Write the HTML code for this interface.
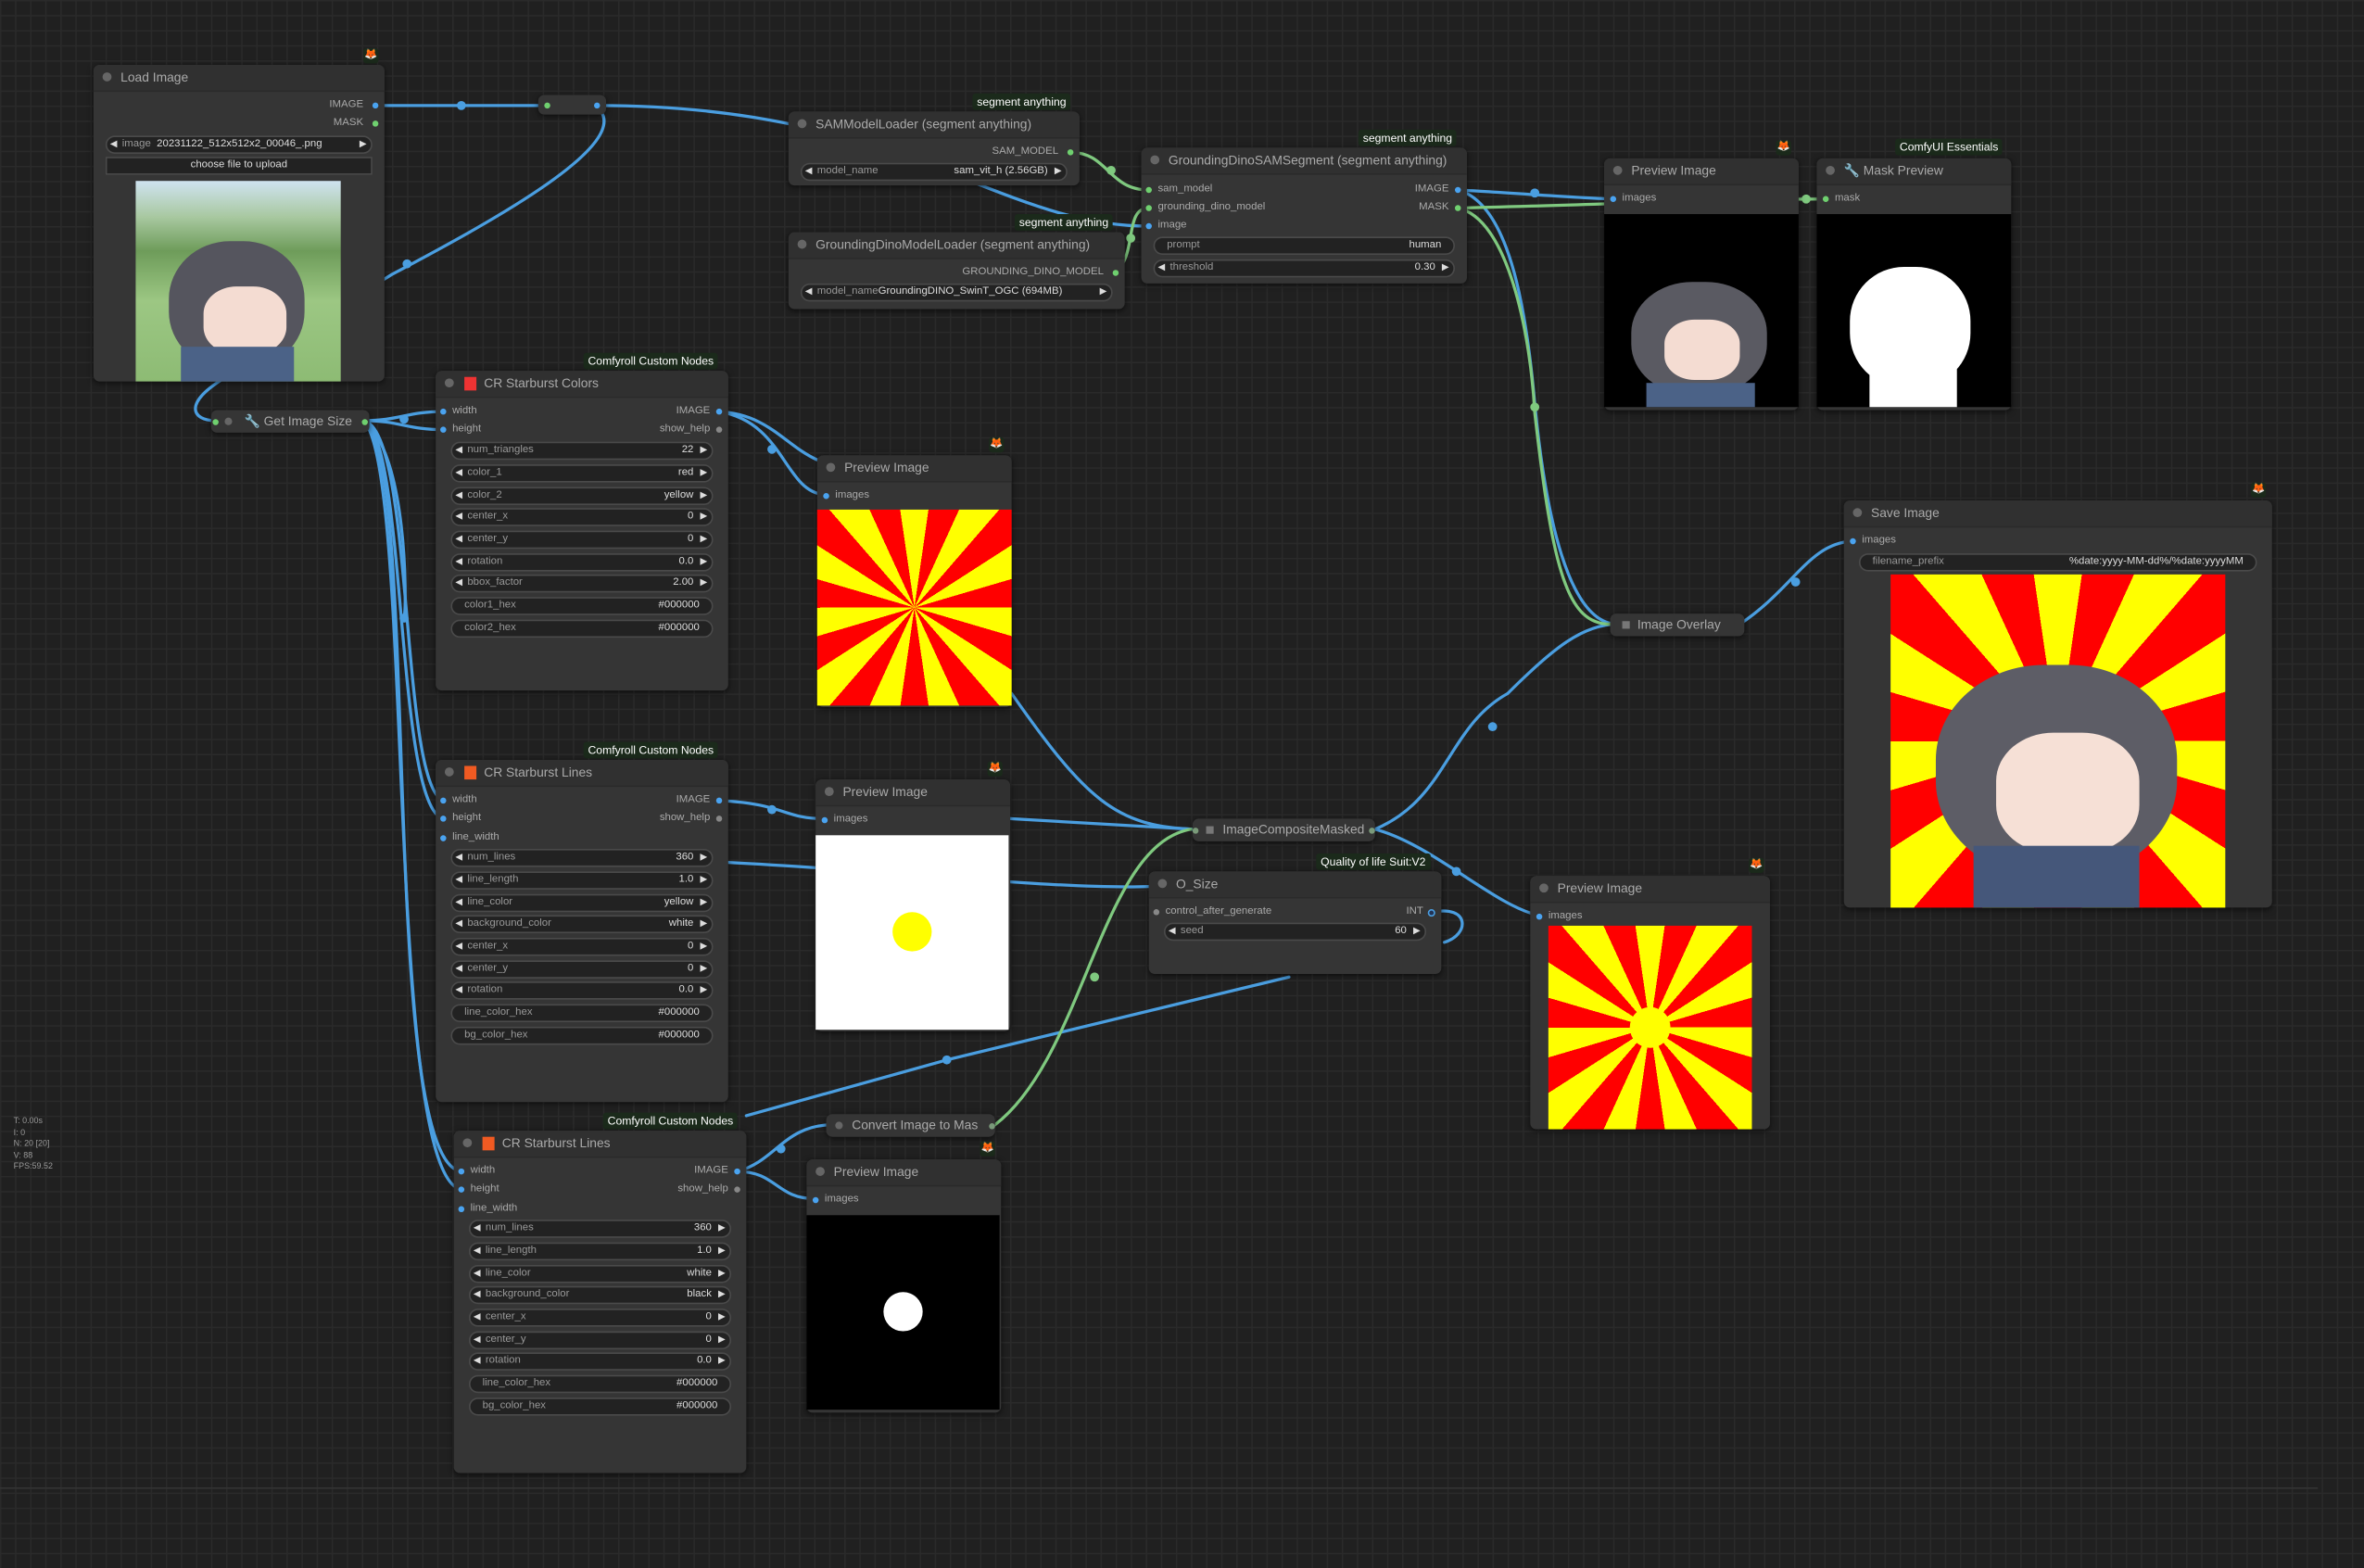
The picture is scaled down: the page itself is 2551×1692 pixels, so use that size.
<!DOCTYPE html>
<html><head><meta charset="utf-8">
<style>
html,body{margin:0;padding:0;width:2551px;height:1692px;overflow:hidden;background:#202020}
#s{position:absolute;left:0;top:0;width:1568px;height:1040px;transform:scale(1.62691);transform-origin:0 0;
background-color:#202020;
background-image:linear-gradient(#2a2a2a 1px,transparent 1px),linear-gradient(90deg,#2a2a2a 1px,transparent 1px);
background-size:10px 10px;font-family:"Liberation Sans",sans-serif}
.n{position:absolute;background:#353535;border-radius:4px;box-shadow:0 1px 4px rgba(0,0,0,.6)}
.t{position:absolute;left:0;right:0;top:0;height:17px;background:#303030;border-radius:4px 4px 0 0;border-bottom:1px solid #2a2a2a;color:#aaa;font-size:8.5px;line-height:17px;padding-left:18px;white-space:nowrap}
.t:before{content:"";position:absolute;left:6px;top:5px;width:6px;height:6px;border-radius:50%;background:#666}
.c{position:absolute;background:#353535;border-radius:4px;color:#aaa;font-size:8.5px;line-height:15px;height:15px;box-shadow:0 1px 4px rgba(0,0,0,.6);white-space:nowrap}
.r{position:absolute;font-size:7px;color:#aaa;line-height:10px;white-space:nowrap}
.d{position:absolute;width:4px;height:4px;border-radius:50%;background:#4aa3f0}
.g{background:#6fd06f}
.w{position:absolute;height:10px;background:#222;border:1px solid #4a4a4a;border-radius:6px;font-size:7px;line-height:10px;color:#999;white-space:nowrap}
.w .l{position:absolute;left:10px}
.w .v{position:absolute;right:12px;color:#ddd}
.w:before{content:"◀";position:absolute;left:2px;font-size:6px;color:#ddd}
.w:after{content:"▶";position:absolute;right:3px;font-size:6px;color:#ddd}
.w.nb:before,.w.nb:after{content:none}
.w.nb .l{left:8px}.w.nb .v{right:8px}
.lab{position:absolute;background:#1b2a1b;color:#fff;font-size:7.5px;line-height:11px;padding:0 3px;white-space:nowrap;border-radius:2px}
.fox{position:absolute;width:10px;height:10px;background:#1b2a1b;border-radius:2px;color:#ff7a22;font-size:7px;text-align:center;line-height:10px}
.sb{position:absolute;background:repeating-conic-gradient(from -8.18deg,#ff0 0 16.36deg,#f00 16.36deg 32.72deg)}
</style></head><body><div id="s">

<svg width="1568" height="1040" style="position:absolute;left:0;top:0" fill="none" stroke-width="2" stroke-linecap="round">
<g stroke="#4a9ee0">
<path d="M250 70 L362 70"/>
<path d="M397 70 C600 70 660 150 762 150"/>
<path d="M397 72 C420 95 330 145 260 182 L150 250 C120 268 128 279 143 279"/>
<path d="M241 279 C265 279 270 273 294 273"/>
<path d="M241 279 C265 279 270 285 294 285"/>
<path d="M241 279 C275 285 265 520 294 531"/>
<path d="M241 279 C270 290 262 535 294 543"/>
<path d="M241 279 C280 300 250 770 306 777"/>
<path d="M241 279 C275 310 255 780 306 789"/>
<path d="M241 279 C270 300 270 400 268 410"/>
<path d="M477 273 C520 280 520 325 546 328"/>
<path d="M477 273 C510 275 520 295 542 305"/>
<path d="M671 460 C720 530 740 548 791 550"/>
<path d="M477 531 C520 533 520 543 546 543"/>
<path d="M670 543 L791 550"/>
<path d="M483 572 C600 578 700 590 762 588"/>
<path d="M489 777 C515 777 515 795 540 795"/>
<path d="M489 777 C515 770 520 746 553 746"/>
<path d="M855 648 L628 703 L495 740"/>
<path d="M912 550 C960 530 960 482 1000 460 C1030 430 1050 414 1073 414"/>
<path d="M912 550 C950 560 990 600 1020 607"/>
<path d="M1154 414 C1190 390 1200 360 1229 359"/>
<path d="M967 126 C990 127 1040 131 1069 132"/>
<path d="M967 126 C1000 135 1012 200 1018 268 C1025 340 1040 414 1073 414"/>
<path d="M950 605 C975 600 975 620 958 625"/>
</g>
<g stroke="#7fc97f">
<path d="M710 101 C735 101 735 126 762 126"/>
<path d="M739 181 C755 170 745 138 762 138"/>
<path d="M967 138 C1050 136 1150 132 1210 132"/>
<path d="M967 138 C1000 145 1015 220 1018 274 C1030 380 1040 414 1068 414"/>
<path d="M660 746 C720 700 730 560 790 550"/>
</g>
<g fill="#4a9ee0" stroke="none">
<circle cx="306" cy="70" r="3"/><circle cx="270" cy="175" r="3"/><circle cx="268" cy="278" r="3"/><circle cx="268" cy="410" r="3"/>
<circle cx="512" cy="298" r="3"/><circle cx="512" cy="537" r="3"/><circle cx="518" cy="762" r="3"/><circle cx="628" cy="703" r="3"/>
<circle cx="990" cy="482" r="3"/><circle cx="966" cy="578" r="3"/><circle cx="1191" cy="386" r="3"/><circle cx="1018" cy="128" r="3"/>
</g>
<g fill="#7fc97f" stroke="none">
<circle cx="737" cy="113" r="3"/><circle cx="750" cy="158" r="3"/><circle cx="1198" cy="132" r="3"/><circle cx="1018" cy="270" r="3"/><circle cx="726" cy="648" r="3"/>
</g>
<line x1="0" y1="987" x2="1537" y2="987" stroke="#333" stroke-width="1"/>
</svg>

<!-- Load Image -->
<div class="fox" style="left:241px;top:32px">🦊</div>
<div class="n" style="left:62px;top:43px;width:193px;height:210px">
<div class="t">Load Image</div>
<div class="r" style="right:14px;top:22px">IMAGE</div><div class="d" style="right:4px;top:25px"></div>
<div class="r" style="right:14px;top:34px">MASK</div><div class="d g" style="right:4px;top:37px"></div>
<div class="w" style="left:8px;right:8px;top:47px"><span class="l">image&nbsp;&nbsp;<span style="color:#ddd">20231122_512x512x2_00046_.png</span></span></div>
<div class="w nb" style="left:8px;right:8px;top:61px;border-radius:0;text-align:center;color:#ddd">choose file to upload</div>
<div style="position:absolute;left:28px;top:77px;width:136px;height:133px;background:linear-gradient(#cfe3f0 0,#a8c8a0 18%,#6e9c5a 35%,#9cc783 60%,#8dbb74 100%);overflow:hidden">
<div style="position:absolute;left:22px;top:40px;width:90px;height:85px;border-radius:45%;background:#55555e"></div>
<div style="position:absolute;left:45px;top:70px;width:55px;height:45px;border-radius:40%;background:#f4dcd2"></div>
<div style="position:absolute;left:30px;top:110px;width:75px;height:30px;background:#4b6287"></div>
</div>
</div>

<div class="c" style="left:357px;top:63px;width:45px;height:13px"><div class="d g" style="left:4px;top:5px"></div><div class="d" style="right:4px;top:5px"></div></div>

<!-- SAMModelLoader -->
<div class="lab" style="left:645px;top:62px">segment anything</div>
<div class="n" style="left:523px;top:74px;width:193px;height:49px">
<div class="t">SAMModelLoader (segment anything)</div>
<div class="r" style="right:14px;top:22px">SAM_MODEL</div><div class="d g" style="right:4px;top:25px"></div>
<div class="w" style="left:8px;right:8px;top:34px"><span class="l">model_name</span><span class="v">sam_vit_h (2.56GB)</span></div>
</div>

<!-- GroundingDinoModelLoader -->
<div class="lab" style="left:673px;top:142px">segment anything</div>
<div class="n" style="left:523px;top:154px;width:223px;height:51px">
<div class="t">GroundingDinoModelLoader (segment anything)</div>
<div class="r" style="right:14px;top:22px">GROUNDING_DINO_MODEL</div><div class="d g" style="right:4px;top:25px"></div>
<div class="w" style="left:8px;right:8px;top:34px"><span class="l">model_name<span style="color:#ddd">GroundingDINO_SwinT_OGC (694MB)</span></span></div>
</div>

<!-- GroundingDinoSAMSegment -->
<div class="lab" style="left:901px;top:86px">segment anything</div>
<div class="n" style="left:757px;top:98px;width:216px;height:90px">
<div class="t">GroundingDinoSAMSegment (segment anything)</div>
<div class="d g" style="left:3px;top:26px"></div><div class="r" style="left:11px;top:23px">sam_model</div>
<div class="d g" style="left:3px;top:38px"></div><div class="r" style="left:11px;top:35px">grounding_dino_model</div>
<div class="d" style="left:3px;top:50px"></div><div class="r" style="left:11px;top:47px">image</div>
<div class="r" style="right:12px;top:23px">IMAGE</div><div class="d" style="right:4px;top:26px"></div>
<div class="r" style="right:12px;top:35px">MASK</div><div class="d g" style="right:4px;top:38px"></div>
<div class="w nb" style="left:8px;right:8px;top:59px"><span class="l">prompt</span><span class="v">human</span></div>
<div class="w" style="left:8px;right:8px;top:74px"><span class="l">threshold</span><span class="v">0.30</span></div>
</div>

<!-- Preview top -->
<div class="fox" style="left:1178px;top:93px">🦊</div>
<div class="n" style="left:1064px;top:105px;width:129px;height:167px">
<div class="t">Preview Image</div>
<div class="d" style="left:4px;top:25px"></div><div class="r" style="left:12px;top:22px">images</div>
<div style="position:absolute;left:0;top:37px;width:129px;height:128px;background:#000;overflow:hidden">
<div style="position:absolute;left:18px;top:45px;width:90px;height:75px;border-radius:45%;background:#5a5a62"></div>
<div style="position:absolute;left:40px;top:70px;width:50px;height:40px;border-radius:40%;background:#f4dcd2"></div>
<div style="position:absolute;left:28px;top:112px;width:72px;height:20px;background:#4b6287"></div>
</div></div>

<!-- Mask Preview -->
<div class="lab" style="left:1257px;top:92px">ComfyUI Essentials</div>
<div class="n" style="left:1205px;top:105px;width:129px;height:167px">
<div class="t">🔧 Mask Preview</div>
<div class="d g" style="left:4px;top:25px"></div><div class="r" style="left:12px;top:22px">mask</div>
<div style="position:absolute;left:0;top:37px;width:129px;height:128px;background:#000;overflow:hidden">
<div style="position:absolute;left:22px;top:35px;width:80px;height:80px;border-radius:45%;background:#fff"></div>
<div style="position:absolute;left:35px;top:95px;width:58px;height:40px;background:#fff"></div>
</div></div>

<!-- Save Image -->
<div class="fox" style="left:1493px;top:320px">🦊</div>
<div class="n" style="left:1223px;top:332px;width:284px;height:270px">
<div class="t">Save Image</div>
<div class="d" style="left:4px;top:25px"></div><div class="r" style="left:12px;top:22px">images</div>
<div class="w nb" style="left:10px;right:10px;top:35px"><span class="l">filename_prefix</span><span class="v">%date:yyyy-MM-dd%/%date:yyyyMM</span></div>
<div class="sb" style="left:31px;top:49px;width:222px;height:221px;overflow:hidden">
<div style="position:absolute;left:30px;top:60px;width:160px;height:140px;border-radius:45%;background:#5d5d66"></div>
<div style="position:absolute;left:70px;top:105px;width:95px;height:80px;border-radius:40%;background:#f6e0d6"></div>
<div style="position:absolute;left:55px;top:180px;width:110px;height:45px;background:#45577a"></div>
</div></div>

<div class="c" style="left:1068px;top:407px;width:89px"><span style="padding-left:18px;color:#aaa">Image Overlay</span><div style="position:absolute;left:8px;top:5px;width:5px;height:5px;background:#777"></div></div>

<!-- Get Image Size -->
<div class="c" style="left:140px;top:272px;width:105px"><span style="padding-left:22px">🔧 Get Image Size</span><div class="d g" style="left:1px;top:6px"></div><div style="position:absolute;left:9px;top:5px;width:5px;height:5px;border-radius:50%;background:#666"></div><div class="d g" style="right:1px;top:6px"></div></div>

<!-- CR Starburst Colors -->
<div class="lab" style="left:387px;top:234px">Comfyroll Custom Nodes</div>
<div class="n" style="left:289px;top:246px;width:194px;height:212px">
<div class="t" style="padding-left:32px">CR Starburst Colors<div style="position:absolute;left:19px;top:4px;width:8px;height:9px;background:#e33"></div></div>
<div class="d" style="left:3px;top:25px"></div><div class="r" style="left:11px;top:22px">width</div>
<div class="d" style="left:3px;top:37px"></div><div class="r" style="left:11px;top:34px">height</div>
<div class="r" style="right:12px;top:22px">IMAGE</div><div class="d" style="right:4px;top:25px"></div>
<div class="r" style="right:12px;top:34px">show_help</div><div class="d" style="right:4px;top:37px;background:#888"></div>
<div class="w" style="left:10px;right:10px;top:47px"><span class="l">num_triangles</span><span class="v">22</span></div>
<div class="w" style="left:10px;right:10px;top:62px"><span class="l">color_1</span><span class="v">red</span></div>
<div class="w" style="left:10px;right:10px;top:77px"><span class="l">color_2</span><span class="v">yellow</span></div>
<div class="w" style="left:10px;right:10px;top:91px"><span class="l">center_x</span><span class="v">0</span></div>
<div class="w" style="left:10px;right:10px;top:106px"><span class="l">center_y</span><span class="v">0</span></div>
<div class="w" style="left:10px;right:10px;top:121px"><span class="l">rotation</span><span class="v">0.0</span></div>
<div class="w" style="left:10px;right:10px;top:135px"><span class="l">bbox_factor</span><span class="v">2.00</span></div>
<div class="w nb" style="left:10px;right:10px;top:150px"><span class="l">color1_hex</span><span class="v">#000000</span></div>
<div class="w nb" style="left:10px;right:10px;top:165px"><span class="l">color2_hex</span><span class="v">#000000</span></div>
</div>

<!-- Preview starburst -->
<div class="fox" style="left:656px;top:290px">🦊</div>
<div class="n" style="left:542px;top:302px;width:129px;height:167px">
<div class="t">Preview Image</div>
<div class="d" style="left:4px;top:25px"></div><div class="r" style="left:12px;top:22px">images</div>
<div class="sb" style="left:0;top:36px;width:129px;height:130px"></div>
</div>

<!-- CR Starburst Lines 1 -->
<div class="lab" style="left:387px;top:492px">Comfyroll Custom Nodes</div>
<div class="n" style="left:289px;top:504px;width:194px;height:227px">
<div class="t" style="padding-left:32px">CR Starburst Lines<div style="position:absolute;left:19px;top:4px;width:8px;height:9px;background:#f05a22"></div></div>
<div class="d" style="left:3px;top:25px"></div><div class="r" style="left:11px;top:22px">width</div>
<div class="d" style="left:3px;top:37px"></div><div class="r" style="left:11px;top:34px">height</div>
<div class="d" style="left:3px;top:50px"></div><div class="r" style="left:11px;top:47px">line_width</div>
<div class="r" style="right:12px;top:22px">IMAGE</div><div class="d" style="right:4px;top:25px"></div>
<div class="r" style="right:12px;top:34px">show_help</div><div class="d" style="right:4px;top:37px;background:#888"></div>
<div class="w" style="left:10px;right:10px;top:59px"><span class="l">num_lines</span><span class="v">360</span></div>
<div class="w" style="left:10px;right:10px;top:74px"><span class="l">line_length</span><span class="v">1.0</span></div>
<div class="w" style="left:10px;right:10px;top:89px"><span class="l">line_color</span><span class="v">yellow</span></div>
<div class="w" style="left:10px;right:10px;top:103px"><span class="l">background_color</span><span class="v">white</span></div>
<div class="w" style="left:10px;right:10px;top:118px"><span class="l">center_x</span><span class="v">0</span></div>
<div class="w" style="left:10px;right:10px;top:133px"><span class="l">center_y</span><span class="v">0</span></div>
<div class="w" style="left:10px;right:10px;top:147px"><span class="l">rotation</span><span class="v">0.0</span></div>
<div class="w nb" style="left:10px;right:10px;top:162px"><span class="l">line_color_hex</span><span class="v">#000000</span></div>
<div class="w nb" style="left:10px;right:10px;top:177px"><span class="l">bg_color_hex</span><span class="v">#000000</span></div>
</div>

<!-- Preview white -->
<div class="fox" style="left:655px;top:505px">🦊</div>
<div class="n" style="left:541px;top:517px;width:129px;height:167px">
<div class="t">Preview Image</div>
<div class="d" style="left:4px;top:25px"></div><div class="r" style="left:12px;top:22px">images</div>
<div style="position:absolute;left:0;top:37px;width:128px;height:129px;background:#fff"><div style="position:absolute;left:51px;top:51px;width:26px;height:26px;border-radius:50%;background:#ff0"></div></div>
</div>

<!-- ImageCompositeMasked -->
<div class="c" style="left:791px;top:543px;width:121px"><span style="padding-left:20px">ImageCompositeMasked</span><div style="position:absolute;left:9px;top:5px;width:5px;height:5px;background:#777"></div><div class="d g" style="left:0;top:6px;background:#7a9a7a"></div><div class="d g" style="right:0;top:6px;background:#7a9a7a"></div></div>

<!-- O_Size -->
<div class="lab" style="left:873px;top:566px">Quality of life Suit:V2</div>
<div class="n" style="left:762px;top:578px;width:194px;height:68px">
<div class="t">O_Size</div>
<div class="d" style="left:3px;top:25px;background:#888"></div><div class="r" style="left:11px;top:22px">control_after_generate</div>
<div class="r" style="right:12px;top:22px">INT</div><div class="d" style="right:4px;top:25px;background:#235;border:1px solid #4a9ee0;width:3px;height:3px"></div>
<div class="w" style="left:10px;right:10px;top:34px"><span class="l">seed</span><span class="v">60</span></div>
</div>

<!-- Preview 3 -->
<div class="fox" style="left:1160px;top:569px">🦊</div>
<div class="n" style="left:1015px;top:581px;width:159px;height:168px">
<div class="t">Preview Image</div>
<div class="d" style="left:4px;top:25px"></div><div class="r" style="left:12px;top:22px">images</div>
<div class="sb" style="left:12px;top:33px;width:135px;height:135px"><div style="position:absolute;left:54px;top:54px;width:27px;height:27px;border-radius:50%;background:#ff0"></div></div>
</div>

<!-- CR Starburst Lines 2 -->
<div class="lab" style="left:400px;top:738px">Comfyroll Custom Nodes</div>
<div class="n" style="left:301px;top:750px;width:194px;height:227px">
<div class="t" style="padding-left:32px">CR Starburst Lines<div style="position:absolute;left:19px;top:4px;width:8px;height:9px;background:#f05a22"></div></div>
<div class="d" style="left:3px;top:25px"></div><div class="r" style="left:11px;top:22px">width</div>
<div class="d" style="left:3px;top:37px"></div><div class="r" style="left:11px;top:34px">height</div>
<div class="d" style="left:3px;top:50px"></div><div class="r" style="left:11px;top:47px">line_width</div>
<div class="r" style="right:12px;top:22px">IMAGE</div><div class="d" style="right:4px;top:25px"></div>
<div class="r" style="right:12px;top:34px">show_help</div><div class="d" style="right:4px;top:37px;background:#888"></div>
<div class="w" style="left:10px;right:10px;top:59px"><span class="l">num_lines</span><span class="v">360</span></div>
<div class="w" style="left:10px;right:10px;top:74px"><span class="l">line_length</span><span class="v">1.0</span></div>
<div class="w" style="left:10px;right:10px;top:89px"><span class="l">line_color</span><span class="v">white</span></div>
<div class="w" style="left:10px;right:10px;top:103px"><span class="l">background_color</span><span class="v">black</span></div>
<div class="w" style="left:10px;right:10px;top:118px"><span class="l">center_x</span><span class="v">0</span></div>
<div class="w" style="left:10px;right:10px;top:133px"><span class="l">center_y</span><span class="v">0</span></div>
<div class="w" style="left:10px;right:10px;top:147px"><span class="l">rotation</span><span class="v">0.0</span></div>
<div class="w nb" style="left:10px;right:10px;top:162px"><span class="l">line_color_hex</span><span class="v">#000000</span></div>
<div class="w nb" style="left:10px;right:10px;top:177px"><span class="l">bg_color_hex</span><span class="v">#000000</span></div>
</div>

<!-- Convert Image to Mask -->
<div class="c" style="left:548px;top:739px;width:112px"><span style="padding-left:17px">Convert Image to Mas</span><div style="position:absolute;left:6px;top:5px;width:5px;height:5px;border-radius:50%;background:#666"></div><div class="d g" style="right:0;top:6px;background:#7a9a7a"></div></div>

<!-- Preview black -->
<div class="fox" style="left:650px;top:757px">🦊</div>
<div class="n" style="left:535px;top:769px;width:129px;height:168px">
<div class="t">Preview Image</div>
<div class="d" style="left:4px;top:25px"></div><div class="r" style="left:12px;top:22px">images</div>
<div style="position:absolute;left:0;top:37px;width:128px;height:129px;background:#000"><div style="position:absolute;left:51px;top:51px;width:26px;height:26px;border-radius:50%;background:#fff"></div></div>
</div>

<div style="position:absolute;left:9px;top:741px;font-size:5.5px;line-height:7.5px;color:#999">T: 0.00s<br>I: 0<br>N: 20 [20]<br>V: 88<br>FPS:59.52</div>

</div></body></html>
